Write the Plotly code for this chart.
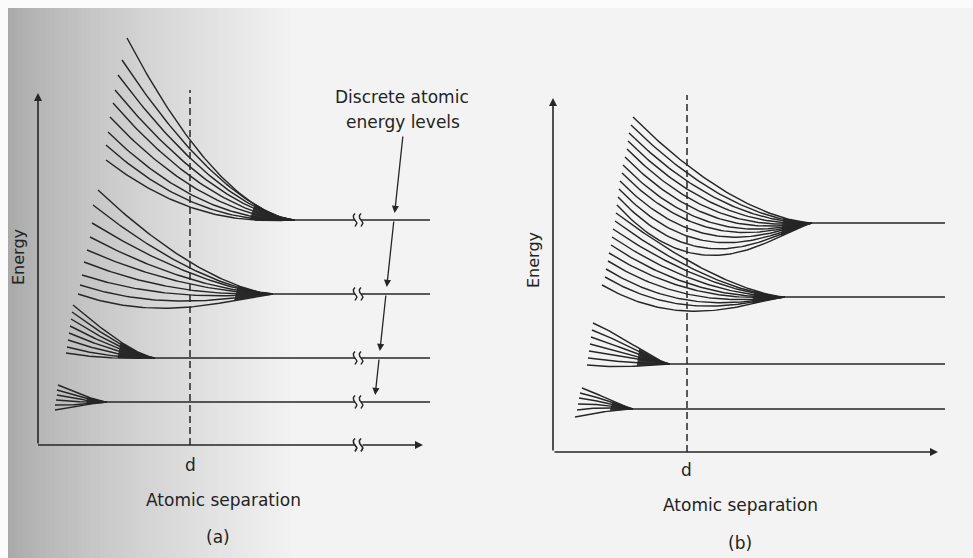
import numpy as np
import plotly.graph_objects as go

# ---------------- data ----------------
# Units: separation r and energy E measured from each panel's axis corner (arbitrary units)

# Panel (a)
A_d = 152            # equilibrium spacing d
A_r_end = 392        # right end of the isolated-atom levels
A_r_break = 320      # axis break position
A_x_axis_end = 385
A_y_axis_end = 352
A_dash_top = 355

A1_level, A1_merge, A1_ref = 225, 257, 152
A1_start_r = [89, 84, 80, 77, 75, 72, 70, 68, 68]
A1_start_E = [407, 385, 370, 355, 342, 328, 313, 300, 285]
A1_ref_E = [305, 296, 287, 278, 269, 260, 251, 244, 238]

A2_level, A2_merge, A2_ref = 151, 235, 152
A2_start_r = [60, 55, 54, 52, 49, 46, 44, 42, 40]
A2_start_E = [255, 240, 222, 208, 195, 183, 170, 160, 151]
A2_ref_E = [183, 177, 172, 166, 161, 155, 150, 144, 138]

A3_level, A3_merge, A3_ref = 87, 117, 77
A3_start_r = [35, 34, 33, 32, 31, 30, 29, 28]
A3_start_E = [140, 133, 126, 119, 112, 105, 98, 92]
A3_ref_E = [107, 104, 101, 98, 95, 92, 89, 87]

A4_level, A4_merge, A4_ref = 43, 69, 47
A4_start_r = [20, 19, 19, 18, 17, 17]
A4_start_E = [60, 55, 50, 45, 40, 35]
A4_ref_E = [49, 47, 45, 43, 41, 40]

# Panel (b)
B_d = 134
B_r_end = 392
B_x_axis_end = 385
B_y_axis_end = 354
B_dash_top = 357

B1_level, B1_merge, B1_ref = 229, 259, 134
B1_start_r = [80, 78, 76, 75, 74, 72, 70, 69, 67, 66, 65, 64]
B1_start_E = [335, 327, 319, 311, 303, 295, 287, 279, 271, 263, 255, 247]
B1_ref_E = [287, 279, 271, 263, 255, 247, 239, 232, 224, 216, 208, 200]

B2_level, B2_merge, B2_ref = 155, 232, 134
B2_start_r = [63, 62, 60, 59, 58, 56, 55, 53, 52, 49]
B2_start_E = [239, 231, 223, 215, 207, 199, 191, 183, 175, 167]
B2_ref_E = [192, 186, 181, 175, 169, 164, 158, 152, 147, 141]

B3_level, B3_merge, B3_ref = 88, 117, 87
B3_start_r = [40, 39, 38, 37, 36, 35, 34]
B3_start_E = [129, 122, 115, 108, 101, 94, 87]
B3_ref_E = [103, 100, 97, 94, 92, 89, 86]

B4_level, B4_merge, B4_ref = 43, 80, 57
B4_start_r = [29, 27, 26, 25, 24, 22]
B4_start_E = [64, 59, 54, 48, 42, 35]
B4_ref_E = [52, 50, 48, 46, 44, 41]

# ---------------- styling ----------------
INK = "#262626"
TXT = "#232323"
FONT = "DejaVu Sans"
LW = 1.45

fig = go.Figure()


def s_curve(c, y0):
    t = np.linspace(-1, 1, 17)
    return list(c - 1.8 * np.sin(np.pi * t)), list(y0 + 6.5 * t)


def curve(level, merge, ref_r, rs, Es, Er, s):
    q = 1.5
    sr = (merge - ref_r) / (merge - rs)
    rel_s, rel_r = Es - level, Er - level
    a = (rel_r - rel_s * sr ** q) / (sr ** 2 - sr ** q)
    b = rel_s - a
    return merge - s * (merge - rs), level + a * s ** 2 + b * s ** q


def band_traces(level, merge, ref_r, start_r, start_E, ref_E, end_r, brk, xa, ya, blob):
    s = np.linspace(1, 0, 70)
    xs, ys = [], []
    for rs, Es, Er in zip(start_r, start_E, ref_E):
        cx, cy = curve(level, merge, ref_r, rs, Es, Er, s)
        xs += list(cx) + [None]
        ys += list(cy) + [None]
    if brk is None:
        xs += [merge, end_r, None]
        ys += [level, level, None]
    else:
        xs += [merge, brk - 3, None, brk + 3, end_r, None]
        ys += [level, level, None, level, level, None]
        for c in (brk - 3, brk + 3):
            sx, sy = s_curve(c, level)
            xs += sx + [None]
            ys += sy + [None]
    # dark ink wedge where the lines converge
    sb = np.linspace(0, blob, 25)
    tx, ty = curve(level, merge, ref_r, start_r[0], start_E[0], ref_E[0], sb)
    bx, by = curve(level, merge, ref_r, start_r[-1], start_E[-1], ref_E[-1], sb[::-1])
    fig.add_trace(go.Scatter(x=list(tx) + list(bx), y=list(ty) + list(by), mode="lines",
                             fill="toself", fillcolor="rgba(25,25,25,0.88)",
                             line=dict(width=0), xaxis=xa, yaxis=ya,
                             hoverinfo="skip", showlegend=False))
    fig.add_trace(go.Scatter(x=xs, y=ys, mode="lines", xaxis=xa, yaxis=ya,
                             line=dict(color=INK, width=LW), hoverinfo="skip",
                             showlegend=False))


for lv, mg, rf, sr_, se, re_, bl in [
    (A1_level, A1_merge, A1_ref, A1_start_r, A1_start_E, A1_ref_E, 0.24),
    (A2_level, A2_merge, A2_ref, A2_start_r, A2_start_E, A2_ref_E, 0.2),
    (A3_level, A3_merge, A3_ref, A3_start_r, A3_start_E, A3_ref_E, 0.42),
    (A4_level, A4_merge, A4_ref, A4_start_r, A4_start_E, A4_ref_E, 0.4),
]:
    band_traces(lv, mg, rf, sr_, se, re_, A_r_end, A_r_break, "x", "y", bl)

for lv, mg, rf, sr_, se, re_, bl in [
    (B1_level, B1_merge, B1_ref, B1_start_r, B1_start_E, B1_ref_E, 0.16),
    (B2_level, B2_merge, B2_ref, B2_start_r, B2_start_E, B2_ref_E, 0.18),
    (B3_level, B3_merge, B3_ref, B3_start_r, B3_start_E, B3_ref_E, 0.4),
    (B4_level, B4_merge, B4_ref, B4_start_r, B4_start_E, B4_ref_E, 0.4),
]:
    band_traces(lv, mg, rf, sr_, se, re_, B_r_end, None, "x2", "y2", bl)

# dashed lines at d
fig.add_trace(go.Scatter(x=[A_d, A_d], y=[0, A_dash_top], mode="lines", xaxis="x", yaxis="y",
                         line=dict(color=INK, width=1.5, dash="7px,4px"), hoverinfo="skip", showlegend=False))
fig.add_trace(go.Scatter(x=[B_d, B_d], y=[0, B_dash_top], mode="lines", xaxis="x2", yaxis="y2",
                         line=dict(color=INK, width=1.5, dash="7px,4px"), hoverinfo="skip", showlegend=False))

# panel (a) x-axis with break
ax_x, ax_y = [0, A_r_break - 3, None], [0, 0, None]
for c in (A_r_break - 3, A_r_break + 3):
    sx, sy = s_curve(c, 0)
    ax_x += sx + [None]
    ax_y += sy + [None]
fig.add_trace(go.Scatter(x=ax_x, y=ax_y, mode="lines", xaxis="x", yaxis="y",
                         line=dict(color=INK, width=1.6), hoverinfo="skip", showlegend=False))

annotations = []


def arrow(x, y, axv, ayv, xr, yr, w=1.6, size=1.0):
    annotations.append(dict(x=x, y=y, ax=axv, ay=ayv, xref=xr, yref=yr, axref=xr, ayref=yr,
                            showarrow=True, arrowhead=2, arrowsize=size, arrowwidth=w,
                            arrowcolor=INK, standoff=0, startstandoff=0, text=""))


# axes arrows
arrow(0, A_y_axis_end, 0, 0, "x", "y")
arrow(A_x_axis_end, 0, A_r_break + 3, 0, "x", "y")
arrow(0, B_y_axis_end, 0, 0, "x2", "y2")
arrow(B_x_axis_end, 0, 0, 0, "x2", "y2")

# pointer from "Discrete atomic energy levels"
p_top_E = 310
p_levels = [A1_level, A2_level, A3_level, A4_level]


def p_x(E):
    return 365 + 0.107 * (E - p_top_E)


prev = p_top_E
for lv in p_levels:
    tip = lv + 7
    arrow(p_x(tip), tip, p_x(prev), prev, "x", "y", w=1.3, size=1.1)
    prev = lv


# texts
def text(x, y, s, xr, yr, size=17, angle=0):
    annotations.append(dict(x=x, y=y, xref=xr, yref=yr, text=s, showarrow=False,
                            textangle=angle, font=dict(family=FONT, size=size, color=TXT)))


text(364, 348, "Discrete atomic", "x", "y")
text(365, 323, "energy levels", "x", "y")
text(A_d, -20, "d", "x", "y")
text(185, -55, "Atomic separation", "x", "y")
text(180, -92, "(a)", "x", "y")
text(-20, 188, "Energy", "x", "y", size=16, angle=-90)

text(B_d - 1, -18, "d", "x2", "y2")
text(187, -53, "Atomic separation", "x2", "y2")
text(187, -91, "(b)", "x2", "y2")
text(-20, 192, "Energy", "x2", "y2", size=16, angle=-90)

# background: scanned-page shading on the left
shapes = []
n = 64
for i in range(n):
    x0 = i * 290 / n
    x1 = (i + 1) * 290 / n
    f = min(1.0, ((x0 + x1) / 2) / 290) ** 0.7
    g = int(163 + (242 - 163) * f)
    col = f"rgb({g},{g},{g})"
    shapes.append(dict(type="rect", xref="paper", yref="paper", x0=x0 / 973, x1=x1 / 973 + 0.001,
                       y0=0, y1=1, fillcolor=col, line=dict(width=0), layer="below"))
shapes.append(dict(type="rect", xref="paper", yref="paper", x0=0, x1=8 / 973, y0=0, y1=1,
                   fillcolor="#fbfbfb", line=dict(width=0), layer="below"))
shapes.append(dict(type="rect", xref="paper", yref="paper", x0=0, x1=1, y0=1 - 8 / 558, y1=1,
                   fillcolor="#fbfbfb", line=dict(width=0), layer="below"))

axis_common = dict(visible=False, showgrid=False, zeroline=False, fixedrange=True, domain=[0, 1])
fig.update_layout(
    width=973, height=558,
    margin=dict(l=0, r=0, t=0, b=0),
    paper_bgcolor="#f3f3f3",
    plot_bgcolor="rgba(0,0,0,0)",
    xaxis=dict(range=[-38, 935], anchor="y", **axis_common),
    yaxis=dict(range=[445 - 558, 445], anchor="x", **axis_common),
    xaxis2=dict(range=[-553, 420], anchor="y2", **axis_common),
    yaxis2=dict(range=[452 - 558, 452], anchor="x2", **axis_common),
    annotations=annotations,
    shapes=shapes,
    showlegend=False,
)

fig.write_html("out.html")
